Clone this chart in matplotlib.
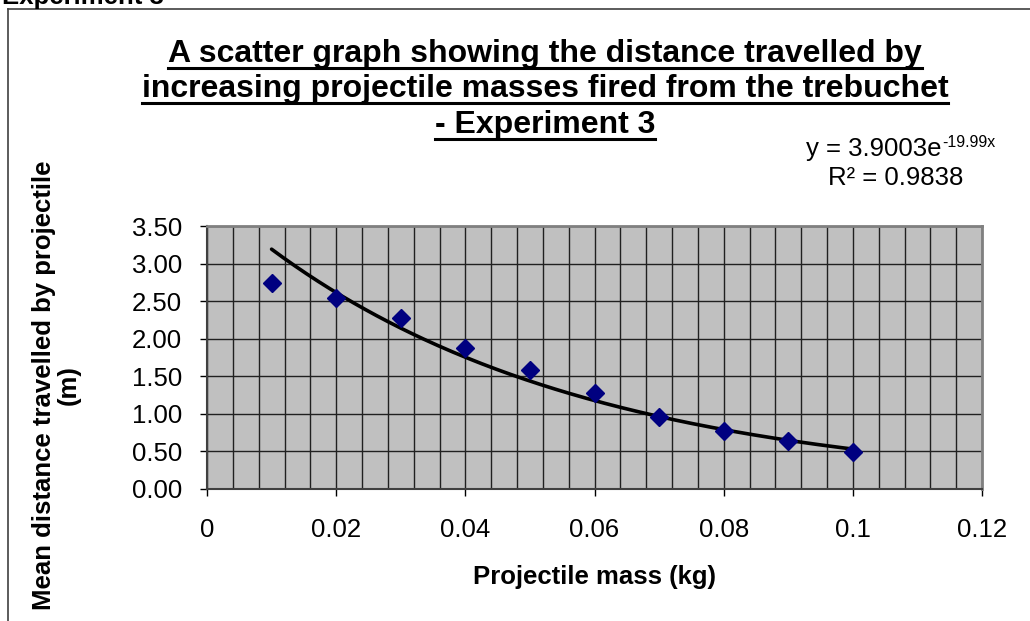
import numpy as np
import matplotlib
matplotlib.use("Agg")
import matplotlib.pyplot as plt
from matplotlib.lines import Line2D

plt.rcParams['font.family'] = ['Liberation Sans', 'DejaVu Sans']
plt.rcParams['axes.unicode_minus'] = False

mass = [0.01, 0.02, 0.03, 0.04, 0.05, 0.06, 0.07, 0.08, 0.09, 0.10]
distance = [2.74, 2.54, 2.27, 1.88, 1.58, 1.27, 0.96, 0.77, 0.63, 0.49]
fit_a = 3.9003
fit_b = -19.99
x_ticks = [0, 0.02, 0.04, 0.06, 0.08, 0.1, 0.12]
x_tick_labels = ['0', '0.02', '0.04', '0.06', '0.08', '0.1', '0.12']
y_ticks = [0.0, 0.5, 1.0, 1.5, 2.0, 2.5, 3.0, 3.5]
y_tick_labels = ['0.00', '0.50', '1.00', '1.50', '2.00', '2.50', '3.00', '3.50']
title_lines = ["A scatter graph showing the distance travelled by",
               "increasing projectile masses fired from the trebuchet",
               "- Experiment 3"]

W, H = 1030, 621
FS = 18.5
fig = plt.figure(figsize=(W / 100, H / 100), dpi=100)
fig.patch.set_facecolor('white')

def fy(py):
    return 1 - py / H

# outer chart border (top and left visible)
fig.add_artist(Line2D([8 / W, 1.0], [fy(9), fy(9)], color='#404040', lw=1.2, transform=fig.transFigure))
fig.add_artist(Line2D([7.5 / W, 7.5 / W], [0, fy(9)], color='#404040', lw=1.2, transform=fig.transFigure))

fig.text(2 / W, fy(4), "Experiment 3", fontsize=FS, fontweight='bold', ha='left', va='baseline')

ax = fig.add_axes([207 / W, fy(488.7), (982 - 207) / W, (488.7 - 226.2) / H])
ax.set_facecolor('#C0C0C0')
ax.set_xlim(0, 0.12)
ax.set_ylim(0, 3.5)
ax.set_xticks(x_ticks)
ax.set_xticklabels(x_tick_labels)
ax.set_yticks(y_ticks)
ax.set_yticklabels(y_tick_labels)
ax.set_xticks(np.arange(0, 0.1201, 0.004), minor=True)
ax.tick_params(axis='both', which='major', labelsize=FS, length=5, width=1, color='black', direction='out')
ax.tick_params(axis='x', which='minor', length=0)
ax.tick_params(axis='x', pad=16)
ax.tick_params(axis='y', pad=13)
ax.grid(True, axis='x', which='both', color='#202020', lw=1)
ax.grid(True, axis='y', which='major', color='#202020', lw=1)
ax.set_axisbelow(True)
for s in ['top', 'right']:
    ax.spines[s].set_color('#808080')
    ax.spines[s].set_linewidth(2)
for s in ['left', 'bottom']:
    ax.spines[s].set_color('#404040')
    ax.spines[s].set_linewidth(1.5)

xf = np.linspace(mass[0], mass[-1], 200)
ax.plot(xf, fit_a * np.exp(fit_b * xf), color='black', lw=2.6, zorder=3, solid_capstyle='round')
ax.plot(mass, distance, linestyle='none', marker='D', markersize=9.5,
        markerfacecolor='#000080', markeredgecolor='#000080', zorder=4)

fig.text(594.5 / W, fy(577), "Projectile mass (kg)", fontsize=FS, fontweight='bold', ha='center', va='center')

fig.text(56 / W, fy(385), "Mean distance travelled by projectile\n(m)", fontsize=FS,
         fontweight='bold', rotation=90, ha='center', va='center', multialignment='center',
         linespacing=1.05)

# equation with superscript (hyphen, as in reference)
fig.canvas.draw()
renderer = fig.canvas.get_renderer()
eq_main = fig.text(0, 0, "y = 3.9003e", fontsize=FS, ha='left', va='baseline')
eq_sup = fig.text(0, 0, "-19.99x", fontsize=FS * 0.62, ha='left', va='baseline')
wm = eq_main.get_window_extent(renderer).width
ws = eq_sup.get_window_extent(renderer).width
total = wm + ws
cx, base1 = 900, 156
x0 = cx - total / 2
eq_main.set_position((x0 / W, fy(base1)))
eq_sup.set_position(((x0 + wm + 1) / W, fy(base1 - 9)))
fig.text(896 / W, fy(178), "R² = 0.9838", fontsize=FS, ha='center', va='center')

title_base = [62, 97, 133]
texts = []
for line, yy in zip(title_lines, title_base):
    t = fig.text(545 / W, fy(yy), line, fontsize=23, fontweight='bold', ha='center', va='baseline')
    texts.append((t, yy))

fig.canvas.draw()
for t, yy in texts:
    bb = t.get_window_extent(renderer)
    uy = fy(yy + 6)
    fig.add_artist(Line2D([bb.x0 / W, bb.x1 / W], [uy, uy], color='black', lw=2.2,
                          transform=fig.transFigure))

fig.savefig("out.png", dpi=100)
